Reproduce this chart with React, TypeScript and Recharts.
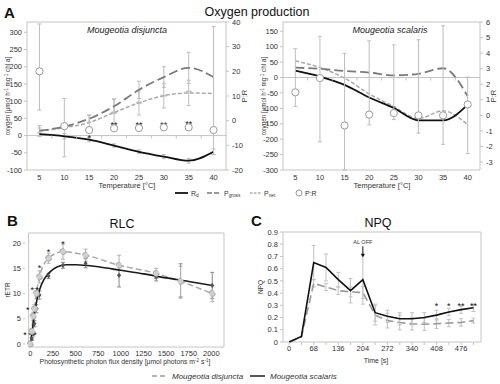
import React from 'react';
import {
  ComposedChart,
  Line,
  Scatter,
  XAxis,
  YAxis,
  ErrorBar,
  ReferenceLine,
  ReferenceArea,
} from 'recharts';

const FONT = '"Liberation Sans", Arial, Helvetica, sans-serif';
const FRAME = '#c4c4c4';
const TXT = '#333';

// ---------------- Panel A : oxygen production ----------------
const temps = [5, 10, 15, 20, 25, 30, 35, 40];
const tempBounds = [7.5, 12.5, 17.5, 22.5, 27.5, 32.5, 37.5];

// Mougeotia disjuncta
const disRd = [4, -2, -12, -29, -47, -61, -73, -47];
const disPgross = [14, 26, 49, 85, 133, 170, 197, 170];
const disPnet = [14, 23, 38, 67, 95, 116, 124, 122];
const disPR = [20, -2.2, -3.8, -3.1, -3.0, -2.7, -2.7, -3.8];
const disRdErr = [6, 8, 6, 5, 5, 6, 7, 8];
const disPgrossErr = [15, 0, 10, 20, 25, 30, 45, 0];
const disPnetErr = [8, 85, 22, 40, 35, 36, 37, 0];
const disPRErr = [[15.7, 19.2], [0, 0], [1, 1], [0, 0], [0, 0], [0, 0], [0, 0], [10, 42]];
const disStarsBlack = [
  { x: 15, y: -4, s: '*' },
  { x: 20, y: 34, s: '**' },
  { x: 25, y: 34, s: '**' },
  { x: 30, y: 35, s: '**' },
  { x: 35, y: 37, s: '**' },
];
const disStarsPale = [
  { x: 20, y: 67, s: '**' },
  { x: 25, y: 95, s: '**' },
  { x: 30, y: 116, s: '**' },
  { x: 35, y: 128, s: '**' },
];

// Mougeotia scalaris
const scaRd = [22, 3, -24, -65, -99, -139, -139, -88];
const scaPgross = [32, 28, 21, 16, 7, 12, 30, -61];
const scaPnet = [54, 32, -2, -53, -94, -133, -108, -153];
const scaPR = [1.48, 2.4, -0.65, 0.05, 0.15, 0.0, 0.0, 0.7];
const scaRdErr = [0, 0, 0, 0, 0, 0, 0, 0];
const scaPgrossErr = [0, 0, 0, 0, 0, 0, 0, 0];
const scaPnetErr = [0, 0, 0, 0, 0, 0, 0, 0];
const scaPRErr = [[0.92, 2.8], [4.1, 2.68], [2.86, 4.64], [0.66, 4.74], [0.42, 4.38], [1.14, 4.86], [1.86, 5.76], [3.16, 1.76]];

const disLeftTicks = [-100, -50, 0, 50, 100, 150, 200, 250, 300];
const disRightTicks = [-20, -10, 0, 10, 20, 30, 40];
const scaLeftTicks = [-300, -250, -200, -150, -100, -50, 0, 50, 100, 150];
const scaRightTicks = [-3, -2, -1, 0, 1, 2, 3, 4, 5, 6];

// ---------------- Panel B : RLC ----------------
const ppfd = [0, 15, 30, 45, 65, 100, 200, 360, 610, 980, 1390, 1660, 2010];
const rlcDis = [0, 2.5, 5.5, 7, 10, 13.3, 17, 18.3, 17.6, 15.6, 14, 12.4, 10];
const rlcDisErr = [0.2, 0.5, 0.8, 0.8, 1.0, 1.2, 1.0, 1.5, 1.2, 2.0, 1.0, 3.0, 1.6];
const rlcSca = [0, 1, 2, 4, 7, 9.7, 13.5, 15.6, 16, 13.6, 13.3, 12.5, 11.6];
const rlcScaErr = [0.2, 0.3, 0.4, 0.6, 0.8, 0.8, 0.5, 0.6, 0.9, 2.3, 0.8, 3.4, 2.6];
const fitPpfd = [0, 25, 50, 75, 100, 150, 200, 250, 300, 400, 500, 600, 750, 1000, 1250, 1500, 1750, 2010];
const fitSca = [0, 3.3, 6.7, 9, 10.7, 12.8, 14, 14.8, 15.3, 15.7, 15.7, 15.6, 15.3, 14.6, 13.9, 13.1, 12.4, 11.6];
const rlcXTicks = [0, 250, 500, 750, 1000, 1250, 1500, 1750, 2000];
const rlcYTicks = [0, 5, 10, 15, 20];
const rlcStars = [
  { x: -60, y: 1.9, s: '*' }, { x: -5, y: 1.9, s: '*' }, { x: 50, y: 1.9, s: '*' },
  { x: -30, y: 6.9, s: '*' }, { x: 25, y: 6.9, s: '*' }, { x: 70, y: 6.9, s: '*' },
  { x: 20, y: 10.9, s: '*' }, { x: 75, y: 10.9, s: '*' },
  { x: 100, y: 15.3, s: '*' }, { x: 200, y: 18.5, s: '*' }, { x: 360, y: 20, s: '*' },
];

// ---------------- Panel C : NPQ ----------------
const time = [0, 34, 68, 102, 136, 170, 204, 238, 272, 306, 340, 374, 408, 442, 476, 510];
const npqSca = [0, 0.045, 0.65, 0.61, 0.51, 0.42, 0.51, 0.24, 0.21, 0.19, 0.19, 0.2, 0.22, 0.245, 0.265, 0.28];
const npqScaErr = [0, 0, 0.14, 0.11, 0.06, 0.1, 0.2, 0.07, 0.05, 0.05, 0.05, 0.04, 0.04, 0.03, 0.03, 0.03];
const npqDis = [0, 0.04, 0.48, 0.45, 0.42, 0.41, 0.405, 0.22, 0.175, 0.16, 0.148, 0.145, 0.15, 0.155, 0.16, 0.175];
const npqDisErr = [0, 0, 0.03, 0.03, 0.03, 0.04, 0.05, 0.08, 0.06, 0.06, 0.05, 0.05, 0.04, 0.03, 0.03, 0.02];
const npqTicks = [0, 34, 68, 102, 136, 170, 204, 238, 272, 306, 340, 374, 408, 442, 476, 510];
const npqYTicks = [0, 0.1, 0.2, 0.3, 0.4, 0.5, 0.6, 0.7, 0.8, 0.9];
const npqStars = [
  { x: 408, y: 0.3, s: '*' },
  { x: 442, y: 0.3, s: '*' },
  { x: 476, y: 0.3, s: '**' },
  { x: 510, y: 0.3, s: '**' },
];
const alOff = [{ x: 204, y: 0.8, s: 'AL OFF' }];

// ---------------- helpers ----------------
const tickStyle = { fontSize: 7.5, fill: TXT };

const StarShape = (color: string, size: number) => (p: any) => (
  <text x={p.cx} y={p.cy + size * 0.45} textAnchor="middle" fontSize={size} fill={color}>
    {p.payload.s}
  </text>
);

const TickMark = (p: any) => (
  <line x1={p.cx} x2={p.cx} y1={p.cy} y2={p.cy + 3} stroke={FRAME} strokeWidth={1} />
);

const Diamond = (p: any) => (
  <path
    d={`M${p.cx},${p.cy - 2.6}L${p.cx + 2},${p.cy}L${p.cx},${p.cy + 2.6}L${p.cx - 2},${p.cy}Z`}
    fill="#555"
  />
);

const AlOffShape = (p: any) => (
  <g>
    <text x={p.cx} y={p.cy} textAnchor="middle" fontSize={5.5} fill={TXT}>
      {p.payload.s}
    </text>
    <line x1={p.cx} x2={p.cx} y1={p.cy + 2} y2={p.cy + 12} stroke="#111" strokeWidth={1} />
    <path d={`M${p.cx - 2},${p.cy + 9.5}L${p.cx + 2},${p.cy + 9.5}L${p.cx},${p.cy + 13}Z`} fill="#111" />
  </g>
);

const layer: React.CSSProperties = { position: 'absolute', left: 0, top: 0, width: 500, height: 384 };

function buildA(
  rd: number[], pg: number[], pn: number[], pr: number[],
  rdE: number[], pgE: number[], pnE: number[], prE: number[][]
) {
  return temps.map((x, i) => ({
    x, rd: rd[i], pg: pg[i], pn: pn[i], pr: pr[i],
    rdE: rdE[i], pgE: pgE[i], pnE: pnE[i], prE: prE[i],
  }));
}

function OxygenChart(props: {
  data: any[];
  margin: any;
  lDomain: number[];
  lTicks: number[];
  rDomain: number[];
  rTicks: number[];
  lWidth: number;
  rWidth: number;
  starsBlack?: any[];
  starsPale?: any[];
}) {
  const { data, margin, lDomain, lTicks, rDomain, rTicks, lWidth, rWidth } = props;
  return (
    <div style={layer}>
      <ComposedChart width={500} height={384} margin={margin}>
        <XAxis
          dataKey="x"
          type="number"
          domain={[2.5, 42.5]}
          ticks={temps}
          axisLine={false}
          tickLine={false}
          tickSize={4}
          tickMargin={1}
          tick={tickStyle}
          height={14}
          interval={0}
        />
        <YAxis
          yAxisId="l"
          orientation="left"
          type="number"
          domain={lDomain}
          ticks={lTicks}
          width={lWidth}
          axisLine={false}
          tickLine={{ stroke: FRAME }}
          tickSize={3}
          tickMargin={2}
          tick={tickStyle}
          interval={0}
        />
        <YAxis
          yAxisId="r"
          orientation="right"
          type="number"
          domain={rDomain}
          ticks={rTicks}
          width={rWidth}
          axisLine={false}
          tickLine={{ stroke: FRAME }}
          tickSize={3}
          tickMargin={3}
          tick={tickStyle}
          interval={0}
        />
        <ReferenceArea
          yAxisId="l"
          x1={2.5}
          x2={42.5}
          y1={lDomain[0]}
          y2={lDomain[1]}
          fill="none"
          stroke={FRAME}
          strokeWidth={1}
          ifOverflow="visible"
        />
        <ReferenceLine yAxisId="l" y={0} stroke={FRAME} strokeWidth={1} />
        <Scatter
          yAxisId="l"
          data={tempBounds.map((x) => ({ x, y: 0 }))}
          dataKey="y"
          shape={TickMark}
          isAnimationActive={false}
        />
        <Line
          yAxisId="l"
          data={data}
          dataKey="pn"
          type="monotone"
          stroke="#aaaaaa"
          strokeWidth={1.5}
          strokeDasharray="4 2"
          dot={false}
          isAnimationActive={false}
        >
          <ErrorBar dataKey="pnE" width={2} stroke="#bdbdbd" strokeWidth={1} direction="y" />
        </Line>
        <Line
          yAxisId="l"
          data={data}
          dataKey="pg"
          type="monotone"
          stroke="#7a7a7a"
          strokeWidth={1.8}
          strokeDasharray="9 4"
          dot={false}
          isAnimationActive={false}
        >
          <ErrorBar dataKey="pgE" width={2} stroke="#bdbdbd" strokeWidth={1} direction="y" />
        </Line>
        <Line
          yAxisId="l"
          data={data}
          dataKey="rd"
          type="monotone"
          stroke="#111"
          strokeWidth={1.8}
          dot={false}
          isAnimationActive={false}
        >
          <ErrorBar dataKey="rdE" width={2} stroke="#bdbdbd" strokeWidth={1} direction="y" />
        </Line>
        <Line
          yAxisId="r"
          data={data}
          dataKey="pr"
          stroke="none"
          strokeWidth={0}
          dot={{ r: 3.6, fill: '#fff', stroke: '#9a9a9a', strokeWidth: 1 }}
          isAnimationActive={false}
        >
          <ErrorBar dataKey="prE" width={2} stroke="#bdbdbd" strokeWidth={1} direction="y" />
        </Line>
        {props.starsPale ? (
          <Scatter
            yAxisId="l"
            data={props.starsPale}
            dataKey="y"
            shape={StarShape('#b5b5b5', 9)}
            isAnimationActive={false}
          />
        ) : null}
        {props.starsBlack ? (
          <Scatter
            yAxisId="l"
            data={props.starsBlack}
            dataKey="y"
            shape={StarShape('#111', 9)}
            isAnimationActive={false}
          />
        ) : null}
      </ComposedChart>
    </div>
  );
}

function RlcChart() {
  const disData = ppfd.map((x, i) => ({ x, y: rlcDis[i], e: rlcDisErr[i] }));
  const scaData = ppfd.map((x, i) => ({ x, y: rlcSca[i], e: rlcScaErr[i] }));
  const fitData = fitPpfd.map((x, i) => ({ x, y: fitSca[i] }));
  return (
    <div style={layer}>
      <ComposedChart width={500} height={384} margin={{ top: 233, right: 276, bottom: 25, left: 10 }}>
        <XAxis
          dataKey="x"
          type="number"
          domain={[-20, 2140]}
          ticks={rlcXTicks}
          axisLine={false}
          tickLine={false}
          tickSize={3}
          tickMargin={1}
          tick={tickStyle}
          height={12}
          interval={0}
        />
        <YAxis
          type="number"
          domain={[-0.6, 22]}
          ticks={rlcYTicks}
          width={15}
          axisLine={false}
          tickLine={{ stroke: FRAME }}
          tickSize={2}
          tickMargin={2}
          tick={tickStyle}
          interval={0}
        />
        <ReferenceArea x1={-20} x2={2140} y1={-0.6} y2={22} fill="none" stroke={FRAME} ifOverflow="visible" />
        <Scatter data={scaData} dataKey="y" shape={Diamond} isAnimationActive={false}>
          <ErrorBar dataKey="e" width={2} stroke="#8a8a8a" strokeWidth={1} direction="y" />
        </Scatter>
        <Line
          data={disData}
          dataKey="y"
          type="monotone"
          stroke="#a8a8a8"
          strokeWidth={1.5}
          strokeDasharray="6 3"
          dot={{ r: 3, fill: '#cfcfcf', stroke: '#a8a8a8', strokeWidth: 1 }}
          isAnimationActive={false}
        >
          <ErrorBar dataKey="e" width={2} stroke="#b0b0b0" strokeWidth={1} direction="y" />
        </Line>
        <Line
          data={fitData}
          dataKey="y"
          type="monotone"
          stroke="#1a1a1a"
          strokeWidth={1.6}
          dot={false}
          isAnimationActive={false}
        />
        <Scatter data={rlcStars} dataKey="y" shape={StarShape('#111', 9)} isAnimationActive={false} />
      </ComposedChart>
    </div>
  );
}

function NpqChart() {
  const scaData = time.map((x, i) => ({ x, y: npqSca[i], e: npqScaErr[i] }));
  const disData = time.map((x, i) => ({ x, y: npqDis[i], e: npqDisErr[i] }));
  return (
    <div style={layer}>
      <ComposedChart width={500} height={384} margin={{ top: 232, right: 19, bottom: 30, left: 268 }}>
        <XAxis
          dataKey="x"
          type="number"
          domain={[-17, 531]}
          ticks={npqTicks}
          tickFormatter={(v: number) => (v % 68 === 0 ? String(v) : '')}
          axisLine={false}
          tickLine={{ stroke: FRAME }}
          tickSize={3}
          tickMargin={1}
          tick={tickStyle}
          height={12}
          interval={0}
        />
        <YAxis
          type="number"
          domain={[0, 0.9]}
          ticks={npqYTicks}
          width={15}
          axisLine={false}
          tickLine={{ stroke: FRAME }}
          tickSize={3}
          tickMargin={2}
          tick={tickStyle}
          interval={0}
        />
        <ReferenceArea x1={-17} x2={531} y1={0} y2={0.9} fill="none" stroke={FRAME} ifOverflow="visible" />
        <Line
          data={disData}
          dataKey="y"
          type="linear"
          stroke="#9a9a9a"
          strokeWidth={1.6}
          strokeDasharray="8 4"
          dot={false}
          isAnimationActive={false}
        >
          <ErrorBar dataKey="e" width={2} stroke="#c0c0c0" strokeWidth={1} direction="y" />
        </Line>
        <Line
          data={scaData}
          dataKey="y"
          type="linear"
          stroke="#111"
          strokeWidth={1.6}
          dot={false}
          isAnimationActive={false}
        >
          <ErrorBar dataKey="e" width={2} stroke="#c0c0c0" strokeWidth={1} direction="y" />
        </Line>
        <Scatter data={npqStars} dataKey="y" shape={StarShape('#111', 9)} isAnimationActive={false} />
        <Scatter data={alOff} dataKey="y" shape={AlOffShape} isAnimationActive={false} />
      </ComposedChart>
    </div>
  );
}

const Sup = ({ t }: { t: string }) => (
  <>
    <tspan dy={-2.2} fontSize={4.6}>{t}</tspan>
    <tspan dy={2.2}> </tspan>
  </>
);

function Overlay() {
  return (
    <svg width={500} height={384} style={{ ...layer, pointerEvents: 'none' }} fontFamily={FONT} fill="#111">
      {/* Panel A */}
      <text x={4} y={18} fontSize={15} fontWeight="bold">A</text>
      <text x={257} y={16} fontSize={12.5} textAnchor="middle">Oxygen production</text>
      <text x={127} y={33} fontSize={9} fontStyle="italic" textAnchor="middle" fill="#222">Mougeotia disjuncta</text>
      <text x={390} y={33} fontSize={9} fontStyle="italic" textAnchor="middle" fill="#222">Mougeotia scalaris</text>
      <text transform="translate(10,96) rotate(-90)" fontSize={6.3} textAnchor="middle" fill={TXT}>
        oxygen [µmol h<Sup t="-1" />mg<Sup t="-1" />chl a]
      </text>
      <text transform="translate(266,96) rotate(-90)" fontSize={6.3} textAnchor="middle" fill={TXT}>
        oxygen [µmol h<Sup t="-1" />mg<Sup t="-1" />chl a]
      </text>
      <text transform="translate(247,96) rotate(-90)" fontSize={7.5} textAnchor="middle" fill={TXT}>P:R</text>
      <text transform="translate(496,96) rotate(-90)" fontSize={7.5} textAnchor="middle" fill={TXT}>P:R</text>
      <text x={127} y={188} fontSize={7.5} textAnchor="middle" fill={TXT}>Temperature [°C]</text>
      <text x={382} y={188} fontSize={7.5} textAnchor="middle" fill={TXT}>Temperature [°C]</text>

      {/* Legend A */}
      <line x1={175} x2={188} y1={193} y2={193} stroke="#111" strokeWidth={1.8} />
      <text x={191} y={195.5} fontSize={7} fill={TXT}>R<tspan dy={1.5} fontSize={4.8}>d</tspan></text>
      <line x1={207} x2={221} y1={193} y2={193} stroke="#7a7a7a" strokeWidth={1.6} strokeDasharray="5 2" />
      <text x={224} y={195.5} fontSize={7} fill={TXT}>P<tspan dy={1.5} fontSize={4.8}>gross</tspan></text>
      <line x1={250} x2={261} y1={193} y2={193} stroke="#aaaaaa" strokeWidth={1.4} strokeDasharray="2.5 1.5" />
      <text x={264} y={195.5} fontSize={7} fill={TXT}>P<tspan dy={1.5} fontSize={4.8}>net</tspan></text>
      <circle cx={299} cy={193} r={3} fill="#fff" stroke="#9a9a9a" strokeWidth={1} />
      <text x={305} y={195.5} fontSize={7} fill={TXT}>P:R</text>

      {/* Panel B */}
      <text x={7} y={226} fontSize={15} fontWeight="bold">B</text>
      <text x={122} y={228} fontSize={12.5} textAnchor="middle">RLC</text>
      <text transform="translate(10,290) rotate(-90)" fontSize={6.5} textAnchor="middle" fill={TXT}>rETR</text>
      <text x={125} y={364} fontSize={6.8} textAnchor="middle" fill={TXT}>
        Photosynthetic photon flux density [µmol photons m<Sup t="-2" />s<tspan dy={-2.2} fontSize={4.6}>-1</tspan><tspan dy={2.2}>]</tspan>
      </text>

      {/* Panel C */}
      <text x={251} y={226} fontSize={15} fontWeight="bold">C</text>
      <text x={378} y={227} fontSize={12.5} textAnchor="middle">NPQ</text>
      <text transform="translate(263,287) rotate(-90)" fontSize={6.5} textAnchor="middle" fill={TXT}>NPQ</text>
      <text x={376} y={363} fontSize={7} textAnchor="middle" fill={TXT}>Time [s]</text>

      {/* Legend B/C */}
      <line x1={152} x2={167} y1={376} y2={376} stroke="#9a9a9a" strokeWidth={1.4} strokeDasharray="5 3" />
      <text x={172} y={379} fontSize={8} fontStyle="italic" fill={TXT}>Mougeotia disjuncta</text>
      <line x1={250} x2={265} y1={376} y2={376} stroke="#111" strokeWidth={1.4} />
      <text x={270} y={379} fontSize={8} fontStyle="italic" fill={TXT}>Mougeotia scalaris</text>
    </svg>
  );
}

export default function App() {
  const disData = buildA(disRd, disPgross, disPnet, disPR, disRdErr, disPgrossErr, disPnetErr, disPRErr);
  const scaData = buildA(scaRd, scaPgross, scaPnet, scaPR, scaRdErr, scaPgrossErr, scaPnetErr, scaPRErr);
  return (
    <div style={{ ...layer, background: '#fff', fontFamily: FONT, overflow: 'hidden' }}>
      <OxygenChart
        data={disData}
        margin={{ top: 22, right: 260, bottom: 200, left: 7 }}
        lDomain={[-100, 330]}
        lTicks={disLeftTicks}
        rDomain={[-20, 40]}
        rTicks={disRightTicks}
        lWidth={20}
        rWidth={14}
        starsBlack={disStarsBlack}
        starsPale={disStarsPale}
      />
      <OxygenChart
        data={scaData}
        margin={{ top: 22, right: 10, bottom: 200, left: 263 }}
        lDomain={[-300, 180]}
        lTicks={scaLeftTicks}
        rDomain={[-3, 6]}
        rTicks={scaRightTicks}
        lWidth={20}
        rWidth={10}
      />
      <RlcChart />
      <NpqChart />
      <Overlay />
    </div>
  );
}
